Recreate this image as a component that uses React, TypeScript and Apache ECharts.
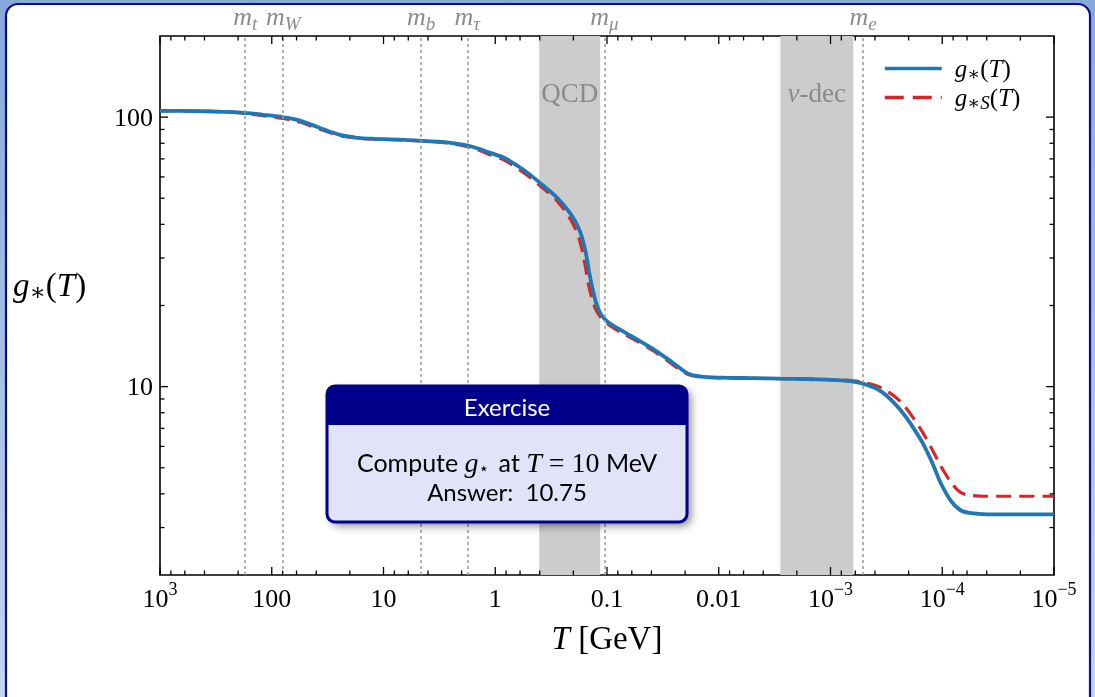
import React, { useEffect, useRef } from "react";
import * as echarts from "echarts";

// ---------- data ----------
const T_GEV = [1000, 500, 300, 200, 153, 120, 100, 80, 65, 55, 45, 36, 30, 24, 19, 16, 12, 8.6, 6, 4.5, 3.2, 2.5, 1.8, 1.4, 1.09, 0.85, 0.72, 0.58, 0.48, 0.364, 0.276, 0.225, 0.196, 0.177, 0.165, 0.157, 0.15, 0.144, 0.134, 0.125, 0.113, 0.0987, 0.075, 0.053, 0.0377, 0.0267, 0.019, 0.0144, 0.0095, 0.005, 0.0028, 0.0015, 0.0008, 5.3e-4, 3.5e-4, 2.3e-4, 1.55e-4, 1.26e-4, 1.03e-4, 8.3e-5, 6.8e-5, 5.5e-5, 4e-5, 1e-5];
const G_STAR = [105.5, 105.3, 104.9, 104.2, 103.2, 102.0, 101.2, 100.0, 98.5, 96.9, 94.0, 90.8, 88.3, 85.8, 84.4, 83.6, 83.1, 82.7, 82.2, 81.7, 81.1, 80.3, 78.5, 76.3, 73.5, 71.0, 68.3, 64.5, 60.8, 55.3, 50.0, 45.3, 41.6, 38.2, 35.1, 32.2, 29.3, 26.4, 22.9, 20.4, 18.5, 17.4, 16.2, 14.9, 13.7, 12.4, 11.2, 10.9, 10.8, 10.75, 10.7, 10.65, 10.55, 10.3, 9.58, 8.07, 6.34, 5.34, 4.38, 3.75, 3.47, 3.39, 3.36, 3.36];
const G_STAR_S = [105.5, 105.3, 104.7, 103.8, 102.6, 101.2, 100.3, 98.9, 97.3, 95.7, 92.8, 89.8, 87.5, 85.2, 84.0, 83.3, 82.9, 82.5, 82.0, 81.5, 80.8, 79.9, 77.8, 75.3, 72.3, 69.6, 66.9, 62.9, 59.4, 54.0, 48.6, 43.4, 39.3, 35.2, 31.3, 28.2, 25.3, 23.2, 20.7, 19.2, 18.0, 17.1, 15.9, 14.7, 13.5, 12.2, 11.1, 10.85, 10.77, 10.74, 10.7, 10.66, 10.58, 10.4, 9.9, 8.7, 6.93, 5.95, 5.07, 4.40, 4.04, 3.95, 3.92, 3.92];

const X_DECADES = [3, 2, 1, 0, -1, -2, -3, -4, -5];
const X_TICK_LABELS = ["{b|10}{e|3}", "{b|100}", "{b|10}", "{b|1}", "{b|0.1}", "{b|0.01}", "{b|10}{e|−3}", "{b|10}{e|−4}", "{b|10}{e|−5}"];
const Y_TICK_LABELS = [10, 100];
const MINOR_SUBS_X = [2, 4, 6, 8];
const MINOR_SUBS_Y = [2, 3, 4, 5, 6, 7, 8, 9];

const MASS_NAMES = ["t", "W", "b", "τ", "μ", "e"];
const MASS_VALUES = [173, 79, 4.6, 1.777, 0.1057, 5.11e-4];

const BAND_NAMES = ["QCD", "nu"];
const BAND_FROM = [0.404, 2.81e-3];
const BAND_TO = [0.115, 6.25e-4];

// ---------- styling ----------
const SERIF = "'Liberation Serif','DejaVu Serif',serif";
const SANS = "Lato,'Noto Sans',sans-serif";
const BLUE = "#1f77b4";
const RED = "#d62728";
const NAVY = "#00008b";

function mathRich(size: number, color: string, subPad: number, subScale = 0.72, lh = 1.25) {
  return {
    i: { fontFamily: SERIF, fontStyle: "italic", fontSize: size, color, verticalAlign: "middle", lineHeight: size * lh },
    r: { fontFamily: SERIF, fontSize: size, color, verticalAlign: "middle", lineHeight: size * lh },
    s: { fontFamily: SERIF, fontStyle: "italic", fontSize: Math.round(size * subScale), color, verticalAlign: "middle", lineHeight: size * 0.6, padding: [subPad, 0, 0, 0] },
  } as any;
}

export default function App() {
  const ref = useRef<HTMLDivElement>(null);

  useEffect(() => {
    if (!ref.current) return;
    const chart = echarts.init(ref.current, undefined, { renderer: "svg" });

    const blueData = T_GEV.map((t, k) => [t, G_STAR[k]]);
    const redData = T_GEV.map((t, k) => [t, G_STAR_S[k]]);

    const xTicks: number[][] = [];
    X_DECADES.forEach((d) => {
      xTicks.push([Math.pow(10, d), 10, 8]);
      if (d > -5) MINOR_SUBS_X.forEach((s) => xTicks.push([s * Math.pow(10, d - 1), 10, 4.5]));
    });
    const yTicks: number[][] = [];
    Y_TICK_LABELS.forEach((v) => yTicks.push([1, v, 8]));
    [1, 10].forEach((dec) =>
      MINOR_SUBS_Y.forEach((s) => {
        const v = s * dec;
        if (v > 2.001 && v < 199) yTicks.push([1, v, 4.5]);
      })
    );

    const tickStyle = { stroke: "#000", lineWidth: 1.3 };

    const option: any = {
      animation: false,
      graphic: [
        {
          type: "rect",
          z: -100,
          shape: { x: 0, y: 0, width: 1095, height: 697 },
          style: {
            fill: new echarts.graphic.LinearGradient(0, 0, 0, 1, [
              { offset: 0, color: "#86a9da" },
              { offset: 1, color: "#c3d4ee" },
            ]),
          },
          silent: true,
        },
        {
          type: "rect",
          z: -99,
          shape: { x: 6, y: 4, width: 1084, height: 710, r: 12 },
          style: { fill: "#ffffff", stroke: "#0c0c8c", lineWidth: 2.2 },
          silent: true,
        },
        {
          type: "text",
          z: 10,
          x: 13,
          y: 285,
          style: {
            text: "{i|g}{s|∗}{r|(}{i|T}{r|)}",
            rich: mathRich(33, "#000", 13),
            verticalAlign: "middle",
            textVerticalAlign: "middle",
          },
        },
        {
          type: "group",
          z: 100,
          children: [
            {
              type: "rect",
              z: 100,
              shape: { x: 327, y: 386, width: 360, height: 136, r: 8 },
              style: {
                fill: "#e2e2f9",
                shadowBlur: 8,
                shadowOffsetX: 4,
                shadowOffsetY: 4,
                shadowColor: "rgba(0,0,0,0.45)",
              },
            },
            {
              type: "rect",
              z: 101,
              shape: { x: 327, y: 386, width: 360, height: 39, r: [8, 8, 0, 0] },
              style: { fill: NAVY },
            },
            {
              type: "rect",
              z: 102,
              shape: { x: 327, y: 386, width: 360, height: 136, r: 8 },
              style: { fill: "none", stroke: NAVY, lineWidth: 3 },
            },
            {
              type: "text",
              z: 103,
              x: 507,
              y: 406,
              style: {
                text: "Exercise",
                fill: "#ffffff",
                fontFamily: SANS,
                fontSize: 24,
                align: "center",
                verticalAlign: "middle",
                textAlign: "center",
                textVerticalAlign: "middle",
              },
            },
            {
              type: "text",
              z: 103,
              x: 507,
              y: 462,
              style: {
                text: "{t|Compute }{i|g}{st|⋆}{t| at }{i|T}{r|\u2005=\u200510}{t| MeV}",
                rich: {
                  t: { fontFamily: SANS, fontSize: 25, color: "#000", verticalAlign: "middle", lineHeight: 30 },
                  i: { fontFamily: SERIF, fontStyle: "italic", fontSize: 28, color: "#000", verticalAlign: "middle", lineHeight: 30 },
                  r: { fontFamily: SERIF, fontSize: 28, color: "#000", verticalAlign: "middle", lineHeight: 30 },
                  st: { fontFamily: "'DejaVu Sans',sans-serif", fontSize: 17, color: "#000", verticalAlign: "middle", lineHeight: 12, padding: [12, 3, 0, 0] },
                },
                align: "center",
                verticalAlign: "middle",
                textAlign: "center",
                textVerticalAlign: "middle",
              },
            },
            {
              type: "text",
              z: 103,
              x: 507,
              y: 491,
              style: {
                text: "Answer:  10.75",
                fill: "#000",
                fontFamily: SANS,
                fontSize: 24,
                align: "center",
                verticalAlign: "middle",
                textAlign: "center",
                textVerticalAlign: "middle",
              },
            },
          ],
        },
      ],
      grid: {
        left: 160,
        right: 41,
        top: 36,
        bottom: 122,
        show: true,
        borderColor: "#000",
        borderWidth: 1.6,
        backgroundColor: "transparent",
      },
      legend: {
        data: [
          { name: "gstar", lineStyle: { width: 3.5, type: "solid", color: BLUE } },
          { name: "gstarS", lineStyle: { width: 3.5, type: [19, 9], color: RED } },
        ],
        orient: "vertical",
        left: 883,
        top: 54,
        padding: 0,
        itemWidth: 57,
        itemHeight: 14,
        itemGap: 0,
        selectedMode: false,
        itemStyle: { opacity: 0, color: "rgba(0,0,0,0)", borderWidth: 0 },
        formatter: (name: string) =>
          name === "gstar" ? "{i|g}{s|∗}{r|(}{i|T}{r|)}" : "{i|g}{s|∗S}{r|(}{i|T}{r|)}",
        textStyle: {
          padding: [0, 0, 0, 8],
          rich: mathRich(25, "#000", 10, 0.75, 0.96),
        },
      },
      xAxis: {
        type: "log",
        logBase: 10,
        min: 1e-5,
        max: 1000,
        inverse: true,
        axisLine: { show: false },
        axisTick: { show: false },
        splitLine: { show: false },
        axisLabel: {
          margin: 3,
          showMinLabel: true,
          showMaxLabel: true,
          formatter: (v: number) => {
            const k = X_DECADES.indexOf(Math.round(Math.log10(v)));
            return k >= 0 ? X_TICK_LABELS[k] : "";
          },
          rich: {
            b: { fontFamily: SERIF, fontSize: 26, color: "#000", lineHeight: 40, verticalAlign: "middle" },
            e: { fontFamily: SERIF, fontSize: 18, color: "#000", lineHeight: 16, verticalAlign: "middle", padding: [0, 0, 18, 0] },
          },
        },
        name: "{i|T}{r| [GeV]}",
        nameLocation: "middle",
        nameGap: 42,
        nameTextStyle: { rich: mathRich(33, "#000", 0) },
      },
      yAxis: {
        type: "log",
        logBase: 10,
        min: 2,
        max: 200,
        axisLine: { show: false },
        axisTick: { show: false },
        splitLine: { show: false },
        axisLabel: {
          margin: 7,
          fontFamily: SERIF,
          fontSize: 26,
          color: "#000",
          formatter: (v: number) => {
            const r = Math.round(v);
            return Y_TICK_LABELS.indexOf(r) >= 0 && Math.abs(v - r) < 1e-6 ? String(r) : "";
          },
        },
      },
      series: [
        {
          name: "marks",
          type: "line",
          data: [],
          z: 1,
          silent: true,
          markArea: {
            silent: true,
            itemStyle: { color: "#cccccc" },
            label: {
              show: true,
              position: "insideTop",
              distance: 40,
              color: "#8a8a8a",
              fontFamily: SERIF,
              fontSize: 27,
              formatter: (p: any) => (p.name === "QCD" ? "{r|QCD}" : "{i|ν}{r|-dec}"),
              rich: mathRich(27, "#8a8a8a", 0),
            },
            data: BAND_NAMES.map((n, k) => [{ xAxis: BAND_FROM[k], name: n }, { xAxis: BAND_TO[k] }]),
          },
          markLine: {
            silent: true,
            precision: 8,
            symbol: ["none", "none"],
            lineStyle: { type: [3, 3], color: "#999999", width: 1.5 },
            label: {
              show: true,
              position: "end",
              distance: 3,
              formatter: (p: any) => `{i|m}{s|${p.name}}`,
              rich: mathRich(26, "#8c8c8c", 14, 0.72),
            },
            data: MASS_NAMES.map((n, k) => ({ xAxis: MASS_VALUES[k], name: n })),
          },
        },
        {
          name: "gstarS",
          type: "line",
          data: redData,
          z: 3,
          symbol: "none",
          showSymbol: false,
          smooth: 0.3,
          lineStyle: { color: RED, width: 3.2, type: [15, 8] },
          itemStyle: { color: RED },
        },
        {
          name: "gstar",
          type: "line",
          data: blueData,
          z: 4,
          symbol: "none",
          showSymbol: false,
          smooth: 0.3,
          lineStyle: { color: BLUE, width: 3.8 },
          itemStyle: { color: BLUE },
        },
        {
          name: "xticks",
          type: "custom",
          z: 5,
          silent: true,
          data: xTicks,
          renderItem: (params: any, api: any) => {
            const cs = params.coordSys;
            const x = api.coord([api.value(0), 10])[0];
            const len = api.value(2);
            const yb = cs.y + cs.height;
            const yt = cs.y;
            return {
              type: "group",
              children: [
                { type: "line", shape: { x1: x, y1: yb, x2: x, y2: yb - len }, style: tickStyle },
                { type: "line", shape: { x1: x, y1: yt, x2: x, y2: yt + len }, style: tickStyle },
              ],
            };
          },
        },
        {
          name: "yticks",
          type: "custom",
          z: 5,
          silent: true,
          data: yTicks,
          renderItem: (params: any, api: any) => {
            const cs = params.coordSys;
            const y = api.coord([1, api.value(1)])[1];
            const len = api.value(2);
            const xl = cs.x;
            const xr = cs.x + cs.width;
            return {
              type: "group",
              children: [
                { type: "line", shape: { x1: xl, y1: y, x2: xl + len, y2: y }, style: tickStyle },
                { type: "line", shape: { x1: xr, y1: y, x2: xr - len, y2: y }, style: tickStyle },
              ],
            };
          },
        },
      ],
    };

    chart.setOption(option);
    return () => chart.dispose();
  }, []);

  return (
    <div
      ref={ref}
      style={{ position: "fixed", left: 0, top: 0, width: 1095, height: 697 }}
    />
  );
}
